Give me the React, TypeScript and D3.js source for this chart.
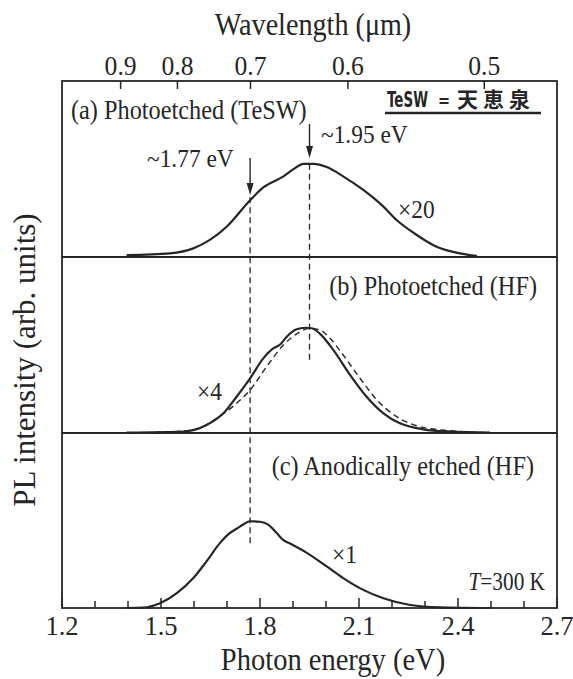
import React from "react";
import * as d3 from "d3";

// ---- data ----
const energyTickLabels = [1.2, 1.5, 1.8, 2.1, 2.4, 2.7];
const energyMinorTicks = [1.3, 1.4, 1.6, 1.7, 1.9, 2.0, 2.2, 2.3, 2.5, 2.6];
const wavelengthTicks = [0.9, 0.8, 0.7, 0.6, 0.5];

// (a) Photoetched (TeSW), x20
const panelA: [number, number][] = [
  [1.396, 0.011], [1.527, 0.021], [1.598, 0.049], [1.648, 0.097], [1.699, 0.172],
  [1.768, 0.318], [1.81, 0.395], [1.871, 0.458], [1.906, 0.505], [1.931, 0.529],
  [1.962, 0.529], [2.002, 0.511], [2.053, 0.457], [2.113, 0.381], [2.174, 0.286],
  [2.214, 0.21], [2.275, 0.125], [2.335, 0.058], [2.406, 0.021], [2.457, 0.006],
];
// (b) Photoetched (HF), x4 - solid
const panelB: [number, number][] = [
  [1.396, 0.002], [1.568, 0.008], [1.638, 0.045], [1.689, 0.112], [1.729, 0.206],
  [1.77, 0.311], [1.81, 0.424], [1.84, 0.481], [1.861, 0.503], [1.881, 0.547],
  [1.911, 0.589], [1.936, 0.598], [1.957, 0.595], [1.982, 0.563], [2.022, 0.472],
  [2.073, 0.33], [2.123, 0.206], [2.174, 0.112], [2.224, 0.055], [2.295, 0.021],
  [2.376, 0.008], [2.497, 0.002],
];
// (b) dashed comparison curve
const panelBDashed: [number, number][] = [
  [1.48, 0.003], [1.598, 0.017], [1.669, 0.084], [1.729, 0.169], [1.77, 0.244],
  [1.82, 0.377], [1.871, 0.5], [1.911, 0.563], [1.952, 0.595], [1.982, 0.585],
  [2.012, 0.538], [2.052, 0.443], [2.103, 0.311], [2.154, 0.188], [2.214, 0.093],
  [2.285, 0.036], [2.376, 0.013], [2.477, 0.003],
];
// (c) Anodically etched (HF), x1
const panelC: [number, number][] = [
  [1.396, 0.0], [1.446, 0.002], [1.497, 0.027], [1.548, 0.084], [1.598, 0.17],
  [1.638, 0.265], [1.679, 0.37], [1.709, 0.427], [1.729, 0.45], [1.749, 0.474],
  [1.77, 0.493], [1.8, 0.49], [1.825, 0.474], [1.85, 0.427], [1.871, 0.385],
  [1.891, 0.366], [1.942, 0.313], [2.002, 0.236], [2.052, 0.17], [2.113, 0.103],
  [2.174, 0.055], [2.255, 0.017], [2.345, 0.004], [2.497, 0.0],
];

// ---- layout ----
const W = 573, H = 679;
const X0 = 62, X1 = 557, Y0 = 81;
const bottoms = [257, 433, 608];
const PANEL_H = 176;
const INK = "#262626";
const SERIF = "'Liberation Serif', 'Times New Roman', serif";

const x = d3.scaleLinear().domain([1.2, 2.7]).range([X0, X1]);
const yA = d3.scaleLinear().domain([0, 1]).range([bottoms[0], bottoms[0] - PANEL_H]);
const yB = d3.scaleLinear().domain([0, 1]).range([bottoms[1], bottoms[1] - PANEL_H]);
const yC = d3.scaleLinear().domain([0, 1]).range([bottoms[2], bottoms[2] - PANEL_H]);

const mkLine = (ys: d3.ScaleLinear<number, number>) =>
  d3.line<[number, number]>().x(d => x(d[0])).y(d => ys(d[1])).curve(d3.curveMonotoneX);

function T(props: {
  x: number; y: number; size: number; sx?: number; anchor?: string; children: React.ReactNode;
  family?: string; weight?: number | string; rotate?: number;
}) {
  const { sx = 0.9, anchor = "start", family = SERIF, weight = "normal", rotate = 0 } = props;
  return (
    <text
      transform={`translate(${props.x},${props.y}) rotate(${rotate}) scale(${sx},1)`}
      fontSize={props.size}
      fontFamily={family}
      fontWeight={weight}
      textAnchor={anchor}
      fill={INK}
    >
      {props.children}
    </text>
  );
}

function Arrow({ e, y1, y2 }: { e: number; y1: number; y2: number }) {
  const cx = x(e);
  return (
    <g>
      <line x1={cx} x2={cx} y1={y1} y2={y2 - 10} stroke={INK} strokeWidth={1.4} />
      <path d={`M${cx - 3.5},${y2 - 12} L${cx + 3.5},${y2 - 12} L${cx},${y2} Z`} fill={INK} />
    </g>
  );
}

export default function App() {
  const lineA = mkLine(yA);
  const lineB = mkLine(yB);
  const lineC = mkLine(yC);
  return (
    <svg
      width={W}
      height={H}
      style={{ position: "absolute", left: 0, top: 0, background: "#fff" }}
    >
      {/* frame */}
      <rect x={X0} y={Y0} width={X1 - X0} height={bottoms[2] - Y0} fill="none" stroke={INK} strokeWidth={1.8} />
      <line x1={X0} x2={X1} y1={bottoms[0]} y2={bottoms[0]} stroke={INK} strokeWidth={1.8} />
      <line x1={X0} x2={X1} y1={bottoms[1]} y2={bottoms[1]} stroke={INK} strokeWidth={1.8} />

      {/* bottom ticks */}
      {energyTickLabels.map(e => (
        <line key={"M" + e} x1={x(e)} x2={x(e)} y1={bottoms[2]} y2={bottoms[2] - 10} stroke={INK} strokeWidth={1.5} />
      ))}
      {energyMinorTicks.map(e => (
        <line key={"m" + e} x1={x(e)} x2={x(e)} y1={bottoms[2]} y2={bottoms[2] - 7} stroke={INK} strokeWidth={1.5} />
      ))}
      {energyTickLabels.map(e => (
        <T key={"l" + e} x={x(e)} y={635} size={28} sx={0.95} anchor="middle">{e.toFixed(1)}</T>
      ))}

      {/* top wavelength ticks */}
      {wavelengthTicks.map(w => (
        <line key={"w" + w} x1={x(1.23984 / w)} x2={x(1.23984 / w)} y1={Y0} y2={Y0 + 8} stroke={INK} strokeWidth={1.5} />
      ))}
      {wavelengthTicks.map(w => (
        <T key={"wl" + w} x={x(1.23984 / w)} y={75} size={27} sx={0.95} anchor="middle">{w.toFixed(1)}</T>
      ))}

      {/* axis titles */}
      <T x={313} y={35} size={32} sx={0.88} anchor="middle">Wavelength (μm)</T>
      <T x={333} y={670} size={31} sx={0.92} anchor="middle">Photon energy (eV)</T>
      <T x={35} y={360} size={31} sx={1.0} anchor="middle" rotate={-90}>PL intensity (arb. units)</T>

      {/* dashed guide lines */}
      <line x1={x(1.77)} x2={x(1.77)} y1={yA(0.34)} y2={yC(0.36)} stroke={INK} strokeWidth={1.3} strokeDasharray="6,4" />
      <line x1={x(1.95)} x2={x(1.95)} y1={yA(0.53)} y2={yB(0.41)} stroke={INK} strokeWidth={1.3} strokeDasharray="6,4" />

      {/* curves */}
      <path d={lineA(panelA) || ""} fill="none" stroke={INK} strokeWidth={2.2} strokeLinejoin="round" />
      <path d={lineB(panelB) || ""} fill="none" stroke={INK} strokeWidth={2.2} strokeLinejoin="round" />
      <path d={lineB(panelBDashed) || ""} fill="none" stroke={INK} strokeWidth={1.4} strokeDasharray="6,4" />
      <path d={lineC(panelC) || ""} fill="none" stroke={INK} strokeWidth={2.2} strokeLinejoin="round" />

      {/* arrows */}
      <Arrow e={1.77} y1={158} y2={195} />
      <Arrow e={1.95} y1={124} y2={158} />
      <T x={147} y={167} size={26} sx={0.9}>~1.77 eV</T>
      <T x={321} y={143} size={26} sx={0.9}>~1.95 eV</T>

      {/* panel labels */}
      <T x={71} y={119} size={27} sx={0.9}>(a) Photoetched (TeSW)</T>
      <T x={537} y={295} size={27} sx={0.9} anchor="end">(b) Photoetched (HF)</T>
      <T x={534} y={475} size={27} sx={0.9} anchor="end">(c) Anodically etched (HF)</T>

      {/* scale factors */}
      <T x={398} y={218} size={26} sx={0.9}>×20</T>
      <T x={197} y={400} size={26} sx={0.9}>×4</T>
      <T x={332} y={563} size={26} sx={0.9}>×1</T>
      <text transform="translate(545,590) scale(0.82,1)" fontSize={26} fontFamily={SERIF} textAnchor="end" fill={INK}>
        <tspan fontStyle="italic">T</tspan>=300 K
      </text>

      {/* TeSW legend */}
      <T x={387} y={107} size={21} sx={0.64} family="'DejaVu Sans', sans-serif" weight={700}>TeSW</T>
      <T x={444} y={107} size={18} sx={0.8} anchor="middle" family="'DejaVu Sans', sans-serif" weight={700}>=</T>
      <text x={457} y={107} fontSize={21} fontFamily="'Noto Sans CJK JP', 'Noto Sans CJK SC', sans-serif" fontWeight={700} letterSpacing={5} fill={INK}>天恵泉</text>
      <line x1={385} x2={541} y1={113} y2={113} stroke={INK} strokeWidth={2.6} />
    </svg>
  );
}
